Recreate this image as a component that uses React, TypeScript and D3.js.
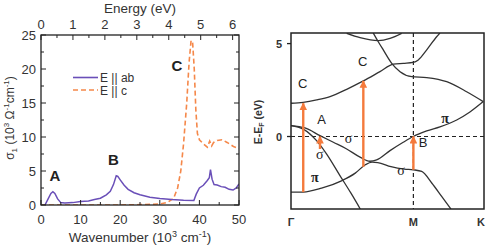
import * as d3 from "d3";

// ---- left panel: optical conductivity ----
const abWave = [1.0, 1.8, 2.5, 3.0, 3.5, 4.2, 5.0, 6, 8, 10, 12, 13.5, 15, 16.5, 17.5, 18.3, 19.0, 19.4, 20, 21, 22, 23.5, 25, 27.5, 30, 33, 36, 38.6, 39.2, 40, 41, 42, 42.5, 42.8, 43.2, 43.7, 44.5, 45.5, 46.5, 47.5, 48.5, 49.3, 50];
const abSigma = [0, 0.9, 1.7, 1.95, 1.7, 0.9, 0.35, 0.3, 0.35, 0.5, 0.6, 0.8, 1.0, 1.5, 2.0, 3.0, 4.3, 4.2, 3.7, 2.9, 2.3, 1.8, 1.5, 1.15, 0.95, 0.8, 0.7, 0.65, 1.6, 2.5, 2.9, 3.6, 4.0, 5.2, 3.8, 3.0, 2.95, 2.7, 2.6, 2.3, 2.2, 2.5, 3.1];
const cWave = [0, 5, 10, 15, 20, 25, 30, 32, 33.5, 34.5, 35.3, 36, 36.8, 37.4, 37.9, 38.3, 38.7, 39.1, 39.5, 40, 41, 42, 42.6, 43.1, 43.6, 44.5, 45.7, 47, 48.6, 50];
const cSigma = [0, 0, 0, 0, 0, 0.05, 0.15, 0.4, 1.0, 2.5, 5, 9, 15, 21, 24.2, 23.8, 20, 14, 10.5, 9.6, 9.0, 8.5, 9.4, 8.7, 9.2, 9.5, 9.6, 9.2, 8.6, 8.3];
const peakLabels = [{ t: "A", x: 3.5, y: 3.6 }, { t: "B", x: 18.3, y: 5.9 }, { t: "C", x: 34.3, y: 19.7 }];
const wnTicks = [0, 10, 20, 30, 40, 50];
const sigmaTicks = [0, 5, 10, 15, 20, 25];
const eVTicks = [0, 1, 2, 3, 4, 5, 6];
const eVToWn = 8.0655; // 10^3 cm^-1 per eV

// ---- right panel: band structure (k along Γ-M-K, E in eV) ----
const bandC = [[0, 1.79], [0.1, 1.84], [0.21, 1.97], [0.319, 2.15], [0.455, 2.54], [0.591, 2.99], [0.727, 3.49], [0.836, 3.89], [0.917, 3.94], [0.999, 3.99], [1.04, 4.12], [1.109, 4.66], [1.19, 5.37], [1.217, 5.57]];
const bandUpper = [[0.672, 5.57], [0.713, 5.1], [0.754, 4.66], [0.823, 3.94], [0.891, 3.49], [0.987, 3.22], [1.109, 3.17], [1.272, 2.95], [1.435, 2.41], [1.571, 1.88]];
const bandTop = [[0.455, 5.55], [0.564, 5.32], [0.713, 5.16], [0.809, 5.28], [0.904, 5.55]];
const bandSigma2 = [[0, 0.59], [0.114, 0.46], [0.237, 0.05], [0.346, -0.31], [0.455, -0.67], [0.564, -1.11], [0.645, -1.33], [0.7, -1.26], [0.809, -0.76], [0.917, -0.31], [0.999, 0], [1.109, 0.3], [1.217, 0.52], [1.354, 0.89], [1.462, 1.32], [1.571, 1.88]];
const bandSigma1 = [[0, 0.59], [0.1, 0.4], [0.209, -0.22], [0.29, -0.93], [0.4, -2.1], [0.49, -3.05], [0.566, -3.9]];
const bandPi = [[0, -2.99], [0.1, -2.99], [0.25, -2.78], [0.417, -2.37], [0.525, -1.97], [0.607, -1.52], [0.662, -1.38], [0.709, -1.4], [0.817, -1.62], [0.926, -1.75], [0.999, -1.79], [1.068, -1.88], [1.15, -2.5], [1.231, -3.22], [1.307, -3.9]];
const transitions = [{ k: 0.1, e0: -2.99, e1: 1.79 }, { k: 0.237, e0: -0.67, e1: 0.0 }, { k: 0.591, e0: -1.63, e1: 2.99 }, { k: 1.0, e0: -1.79, e1: 0.0 }];
const kPoints = [{ t: "Γ", k: 0 }, { t: "M", k: 1 }, { t: "K", k: 1.577 }];
const bandLabels = [
  { t: "C", k: 0.095, e: 2.6, f: "sans" }, { t: "C", k: 0.585, e: 3.8, f: "sans" },
  { t: "A", k: 0.25, e: 0.7, f: "sans" }, { t: "B", k: 1.08, e: -0.55, f: "sans" },
  { t: "σ", k: 0.47, e: -0.35, f: "serif" }, { t: "σ", k: 0.235, e: -1.2, f: "serif" },
  { t: "π", k: 0.195, e: -2.45, f: "serif" }, { t: "σ", k: 0.9, e: -2.05, f: "serif" },
  { t: "π", k: 1.26, e: 0.75, f: "serif" },
];

const sans = "'Liberation Sans', Arial, sans-serif";
const purple = "#6a4fb8";
const orange = "#f5884a";
const arrowOrange = "#f47a3c";

export default function App() {
  // left panel scales
  const x = d3.scaleLinear().domain([0, 50]).range([41, 239]);
  const y = d3.scaleLinear().domain([0, 25]).range([205, 35]);
  const spectrum = (xs: number[], ys: number[]) =>
    d3.line<number>().x((d) => x(d)).y((_, i) => y(ys[i]))(xs) || "";

  // right panel scales
  const kx = d3.scaleLinear().domain([0, 1.577]).range([291, 484]);
  const ey = d3.scaleLinear().domain([-3.9, 5.57]).range([209, 33]);
  const band = d3.line<number[]>().x((d) => kx(d[0])).y((d) => ey(d[1])).curve(d3.curveMonotoneX);

  const minorWn = d3.range(5, 50, 10);
  const minorSigma = d3.range(2.5, 25, 5);
  const minorEv = d3.range(0.5, 6.1, 1);

  return (
    <svg width={491} height={248} style={{ position: "absolute", left: 0, top: 0, background: "#fff" }} fontFamily={sans}>
      <defs>
        <marker id="ah" viewBox="0 0 10 10" refX="9" refY="5" markerWidth="3.4" markerHeight="3.2" orient="auto" markerUnits="strokeWidth">
          <path d="M0,0 L10,5 L0,10 z" fill={arrowOrange} />
        </marker>
        <clipPath id="lc"><rect x={41} y={35} width={198} height={170} /></clipPath>
        <clipPath id="rc"><rect x={291} y={33} width={193} height={176} /></clipPath>
      </defs>

      {/* ---------- left panel ---------- */}
      <g clipPath="url(#lc)">
        <path d={spectrum(cWave, cSigma)} fill="none" stroke={orange} strokeWidth={1.6} strokeDasharray="5,3" />
        <path d={spectrum(abWave, abSigma)} fill="none" stroke={purple} strokeWidth={1.5} />
      </g>
      <rect x={41} y={35} width={198} height={170} fill="none" stroke="#222" strokeWidth={1.3} />
      {wnTicks.map((t) => (
        <g key={"wb" + t}>
          <line x1={x(t)} x2={x(t)} y1={205} y2={200} stroke="#222" />
          <text x={x(t)} y={224} textAnchor="middle" fontSize={13} fill="#333">{t}</text>
        </g>
      ))}
      {minorWn.map((t) => (
        <line key={"wm" + t} x1={x(t)} x2={x(t)} y1={205} y2={202} stroke="#222" />
      ))}
      {sigmaTicks.map((t) => (
        <g key={"s" + t}>
          <line x1={41} x2={46} y1={y(t)} y2={y(t)} stroke="#222" />
          <line x1={239} x2={234} y1={y(t)} y2={y(t)} stroke="#222" />
          <text x={36} y={y(t) + 4.5} textAnchor="end" fontSize={13} fill="#333">{t}</text>
        </g>
      ))}
      {minorSigma.map((t) => (
        <g key={"sm" + t}>
          <line x1={41} x2={44} y1={y(t)} y2={y(t)} stroke="#222" />
          <line x1={239} x2={236} y1={y(t)} y2={y(t)} stroke="#222" />
        </g>
      ))}
      {eVTicks.map((t) => (
        <g key={"ev" + t}>
          <line x1={x(t * eVToWn)} x2={x(t * eVToWn)} y1={35} y2={40} stroke="#222" />
          <text x={x(t * eVToWn)} y={29} textAnchor="middle" fontSize={13} fill="#333">{t}</text>
        </g>
      ))}
      {minorEv.map((t) => (
        <line key={"evm" + t} x1={x(t * eVToWn)} x2={x(t * eVToWn)} y1={35} y2={38} stroke="#222" />
      ))}
      <text x={140} y={13} textAnchor="middle" fontSize={13.5} fill="#333">Energy (eV)</text>
      <text x={140} y={242} textAnchor="middle" fontSize={13.5} fill="#333">
        Wavenumber (10<tspan dy={-5} fontSize={9}>3</tspan><tspan dy={5}> cm</tspan><tspan dy={-5} fontSize={9}>-1</tspan><tspan dy={5}>)</tspan>
      </text>
      <text transform="translate(14,118) rotate(-90)" textAnchor="middle" fontSize={12} fill="#333">
        σ<tspan dy={3} fontSize={8}>1</tspan><tspan dy={-3}> (10</tspan><tspan dy={-5} fontSize={8}>3</tspan><tspan dy={5}> Ω</tspan><tspan dy={-5} fontSize={8}>-1</tspan><tspan dy={5}>cm</tspan><tspan dy={-5} fontSize={8}>-1</tspan><tspan dy={5}>)</tspan>
      </text>
      {peakLabels.map((p) => (
        <text key={p.t} x={x(p.x)} y={y(p.y)} textAnchor="middle" fontSize={15} fontWeight="bold" fill="#222">{p.t}</text>
      ))}
      <line x1={73} x2={98} y1={77.5} y2={77.5} stroke={purple} strokeWidth={1.6} />
      <line x1={73} x2={98} y1={90} y2={90} stroke={orange} strokeWidth={1.6} strokeDasharray="5,3" />
      <text x={100} y={82} fontSize={12} fill="#333">E || ab</text>
      <text x={100} y={94.5} fontSize={12} fill="#333">E || c</text>

      {/* ---------- right panel ---------- */}
      <line x1={kx(0)} x2={kx(1.577)} y1={ey(0)} y2={ey(0)} stroke="#222" strokeWidth={1.2} strokeDasharray="4,3" />
      <line x1={kx(1)} x2={kx(1)} y1={ey(5.57)} y2={ey(-3.9)} stroke="#222" strokeWidth={1.2} strokeDasharray="4,3" />
      <g clipPath="url(#rc)" fill="none" stroke="#333" strokeWidth={1.3}>
        {[bandC, bandUpper, bandTop, bandSigma2, bandSigma1, bandPi].map((b, i) => (
          <path key={i} d={band(b) || ""} />
        ))}
      </g>
      {transitions.map((t, i) => (
        <line key={i} x1={kx(t.k)} x2={kx(t.k)} y1={ey(t.e0)} y2={ey(t.e1)} stroke={arrowOrange} strokeWidth={2.4} markerEnd="url(#ah)" />
      ))}
      <rect x={291} y={33} width={193} height={176} fill="none" stroke="#222" strokeWidth={1.5} />
      {[0, 5].map((t) => (
        <g key={"e" + t}>
          <line x1={287} x2={291} y1={ey(t)} y2={ey(t)} stroke="#222" strokeWidth={1.3} />
          <text x={279} y={ey(t) + 4} textAnchor="middle" fontSize={11} fontWeight="bold" fill="#333">{t}</text>
        </g>
      ))}
      {kPoints.map((p) => (
        <text key={p.t} x={p.t === "K" ? kx(p.k) - 3 : kx(p.k)} y={226} textAnchor="middle" fontSize={11} fontWeight="bold" fill="#333">{p.t}</text>
      ))}
      <text transform="translate(262,122) rotate(-90)" textAnchor="middle" fontSize={10.5} fontWeight="bold" fill="#333">
        E-E<tspan dy={2} fontSize={7}>F</tspan><tspan dy={-2}> (eV)</tspan>
      </text>
      {bandLabels.map((l, i) => (
        <text key={i} x={kx(l.k)} y={ey(l.e)} textAnchor="middle" fontSize={l.f === "sans" ? 13 : 14}
          fontFamily={l.f === "sans" ? sans : "'Liberation Serif', 'DejaVu Serif', serif"} fontWeight={l.t === "π" ? "bold" : "normal"} fill="#222">{l.t}</text>
      ))}
    </svg>
  );
}
